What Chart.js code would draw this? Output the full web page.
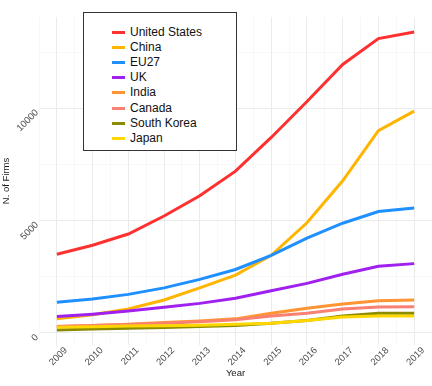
<!DOCTYPE html>
<html>
<head>
<meta charset="utf-8">
<script src="https://cdn.jsdelivr.net/npm/chart.js@4/dist/chart.umd.min.js"></script>
<style>
  html, body { margin: 0; padding: 0; background: #fff; }
  #wrap { position: relative; width: 432px; height: 386px; }
  #legend { position: absolute; left: 83px; top: 12px; width: 154px; height: 139px;
    border: 1px solid #333; background: #fff; box-sizing: border-box;
    font-family: "Liberation Sans", Arial, sans-serif; font-size: 12px; color: #111; }
  .row { position: absolute; left: 0; height: 14px; line-height: 14px; white-space: nowrap; }
  .sw { position: absolute; left: 28px; top: 6px; width: 13px; height: 3px; }
  .lb { position: absolute; left: 46px; top: 0; }
</style>
</head>
<body>
<div id="wrap">
  <canvas id="c" width="432" height="386"></canvas>
  <div id="legend"></div>
</div>
<script>
const years = [2009, 2010, 2011, 2012, 2013, 2014, 2015, 2016, 2017, 2018, 2019];
const seriesNames = ["United States", "China", "EU27", "UK", "India", "Canada", "South Korea", "Japan"];
const unitedStates = [3500, 3900, 4400, 5200, 6100, 7200, 8700, 10300, 11950, 13100, 13400];
const china       = [620, 800, 1060, 1460, 2000, 2570, 3450, 4900, 6770, 9000, 9870];
const eu27        = [1360, 1500, 1710, 2000, 2380, 2820, 3450, 4220, 4880, 5400, 5560];
const uk          = [720, 830, 970, 1140, 1310, 1540, 1870, 2200, 2610, 2960, 3080];
const india       = [280, 320, 385, 460, 530, 620, 870, 1090, 1280, 1430, 1460];
const canada      = [280, 320, 370, 430, 490, 575, 750, 870, 1060, 1150, 1160];
const southKorea  = [120, 165, 205, 235, 280, 325, 430, 545, 750, 870, 870];
const japan       = [250, 265, 300, 310, 340, 385, 430, 545, 700, 750, 750];
const yTickValues = [0, 2500, 5000, 7500, 10000, 12500];
const yLabelValues = [0, 5000, 10000];
const colors = ["#FF3030", "#FFB400", "#1E90FF", "#A020F0", "#FF9433", "#FA8072", "#8B8B00", "#FFD700"];

const seriesValues = [unitedStates, china, eu27, uk, india, canada, southKorea, japan];

const datasets = seriesNames.map((name, i) => ({
  label: name,
  data: years.map((y, j) => ({ x: y, y: seriesValues[i][j] })),
  borderColor: colors[i],
  backgroundColor: colors[i],
  borderWidth: 3,
  pointRadius: 0,
  tension: 0,
  fill: false,
  order: seriesNames.length - i
}));

// HTML legend
const leg = document.getElementById('legend');
seriesNames.forEach((name, i) => {
  const row = document.createElement('div');
  row.className = 'row';
  row.style.top = (12 + i * 15.1) + 'px';
  row.style.width = '150px';
  const sw = document.createElement('span');
  sw.className = 'sw';
  sw.style.background = colors[i];
  const lb = document.createElement('span');
  lb.className = 'lb';
  lb.textContent = name;
  row.appendChild(sw); row.appendChild(lb);
  leg.appendChild(row);
});

const xTickValues = [];
for (let v = years[0] - 0.5; v <= years[years.length - 1] + 0.5; v += 0.5) xTickValues.push(v);

new Chart(document.getElementById('c'), {
  type: 'line',
  data: { datasets },
  options: {
    responsive: false,
    animation: false,
    devicePixelRatio: 1,
    layout: { padding: { top: 17, right: 0, bottom: 0, left: 0 } },
    plugins: { legend: { display: false }, tooltip: { enabled: false } },
    scales: {
      x: {
        type: 'linear',
        min: years[0] - 0.5,
        max: years[years.length - 1] + 0.5,
        afterBuildTicks: (s) => { s.ticks = xTickValues.map(v => ({ value: v })); },
        afterFit: (s) => { s.height = 41; s.paddingLeft = 0; s.paddingRight = 0; },
        border: { display: false },
        grid: {
          drawTicks: false,
          color: (ctx) => (ctx.tick && Number.isInteger(ctx.tick.value)) ? '#EBEBEB' : '#F4F4F4',
          lineWidth: (ctx) => (ctx.tick && Number.isInteger(ctx.tick.value)) ? 1 : 0.6
        },
        ticks: {
          autoSkip: false,
          minRotation: 45, maxRotation: 45,
          padding: 0,
          labelOffset: 9,
          color: '#4D4D4D',
          font: { family: '"Liberation Sans", Arial, sans-serif', size: 9.5 },
          callback: (v) => Number.isInteger(v) ? String(v) : ''
        },
        title: {
          display: true, text: 'Year', color: '#1A1A1A',
          font: { family: '"Liberation Sans", Arial, sans-serif', size: 9.5 },
          padding: { top: 0, bottom: 7 }
        }
      },
      y: {
        type: 'linear',
        min: -544,
        max: 14064,
        afterBuildTicks: (s) => { s.ticks = yTickValues.map(v => ({ value: v })); },
        afterFit: (s) => { s.width = 39; s.paddingTop = 0; s.paddingBottom = 0; },
        border: { display: false },
        grid: {
          drawTicks: false,
          color: (ctx) => (ctx.tick && ctx.tick.value % 5000 === 0) ? '#EBEBEB' : '#F4F4F4',
          lineWidth: (ctx) => (ctx.tick && ctx.tick.value % 5000 === 0) ? 1 : 0.6
        },
        ticks: {
          autoSkip: false,
          minRotation: 45, maxRotation: 45,
          padding: 2,
          labelOffset: 3,
          color: '#4D4D4D',
          font: { family: '"Liberation Sans", Arial, sans-serif', size: 9.5 },
          callback: (v) => yLabelValues.includes(v) ? String(v) : ''
        },
        title: {
          display: true, text: 'N. of Firms', color: '#1A1A1A',
          font: { family: '"Liberation Sans", Arial, sans-serif', size: 9.5 },
          padding: { top: 1, bottom: 0 }
        }
      }
    }
  }
});
</script>
</body>
</html>
